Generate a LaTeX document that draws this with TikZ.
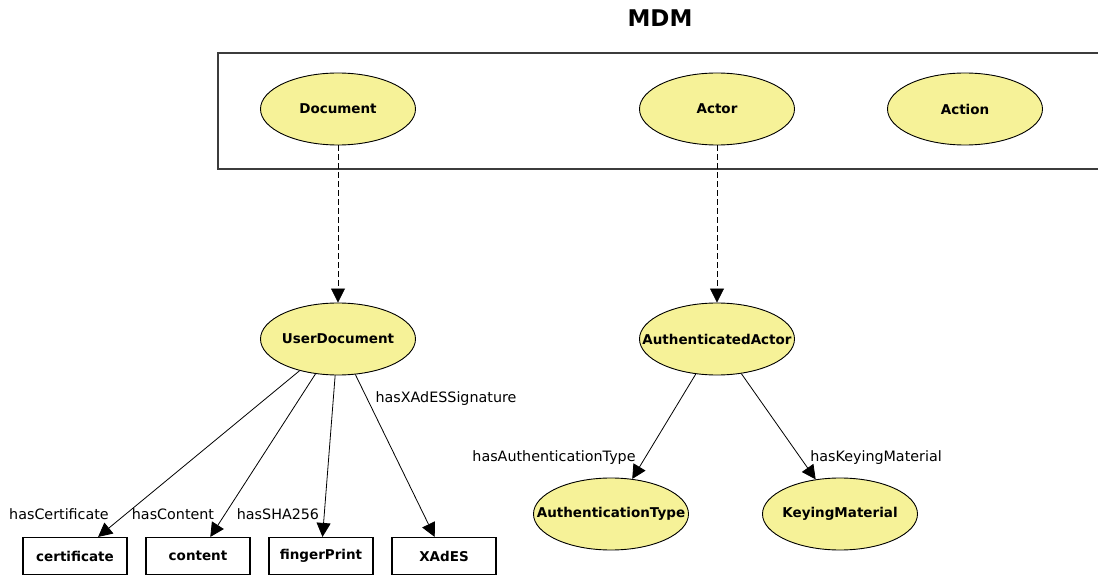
\documentclass[tikz,border=0pt]{standalone}
\usepackage{fontspec}
\setmainfont{DejaVu Sans}
\usetikzlibrary{shapes.geometric,arrows.meta}
\definecolor{clsfill}{RGB}{246,242,152}
\definecolor{pkgline}{RGB}{60,60,60}
\tikzset{
  cls/.style={ellipse,draw=black,line width=0.9pt,fill=clsfill,minimum width=155pt,minimum height=72pt,inner xsep=-30pt,inner ysep=0pt,font=\fontsize{13.5}{16}\selectfont\bfseries},
  lit/.style={rectangle,draw=black,line width=1.1pt,fill=white,minimum width=104pt,minimum height=37pt,inner sep=0pt,font=\fontsize{13.5}{16}\selectfont\bfseries},
  prop/.style={-{Triangle[length=14pt,width=14pt]},line width=0.8pt,black},
  sub/.style={-{Triangle[length=14pt,width=14pt]},line width=0.8pt,black,dash pattern=on 6pt off 3pt},
  lbl/.style={font=\fontsize{14.3}{17}\selectfont,inner sep=0pt,anchor=base},
  pkg/.style={draw=pkgline,line width=1.1pt}
}
\begin{document}
\begin{tikzpicture}[x=1pt,y=-1pt]
\useasboundingbox (0,0) rectangle (1098,577);
\node[font=\fontsize{23}{26}\selectfont\bfseries] (title) at (660,18) {MDM};
\draw[pkg] (1100,53) -- (218,53) -- (218,169) -- (1100,169);
\node[cls] (doc) at (338,109) {Document};
\node[cls] (actor) at (717,109) {Actor};
\node[cls] (action) at (965,109) {Action};
\node[cls] (udoc) at (338,339) {UserDocument};
\node[cls] (aactor) at (717,339) {AuthenticatedActor};
\node[cls] (atype) at (611,514) {AuthenticationType};
\node[cls] (kmat) at (840,514) {KeyingMaterial};
\node[lit] (cert) at (75,556) {certificate};
\node[lit] (cont) at (198,556) {content};
\node[lit] (fp) at (321,556) {fingerPrint};
\node[lit] (xades) at (444,556) {XAdES};
\draw[sub] (doc) -- (udoc);
\draw[sub] (actor) -- (aactor);
\draw[prop] (udoc) -- (cert);
\draw[prop] (udoc) -- (cont);
\draw[prop] (udoc) -- (fp);
\draw[prop] (udoc) -- (xades);
\draw[prop] (aactor) -- (atype);
\draw[prop] (aactor) -- (kmat);
\node[lbl] (l1) at (59,519) {hasCertificate};
\node[lbl] (l2) at (173,519) {hasContent};
\node[lbl] (l3) at (278,519) {hasSHA256};
\node[lbl] (l4) at (446,402) {hasXAdESSignature};
\node[lbl] (l5) at (554,461) {hasAuthenticationType};
\node[lbl] (l6) at (876,461) {hasKeyingMaterial};
\end{tikzpicture}
\end{document}
